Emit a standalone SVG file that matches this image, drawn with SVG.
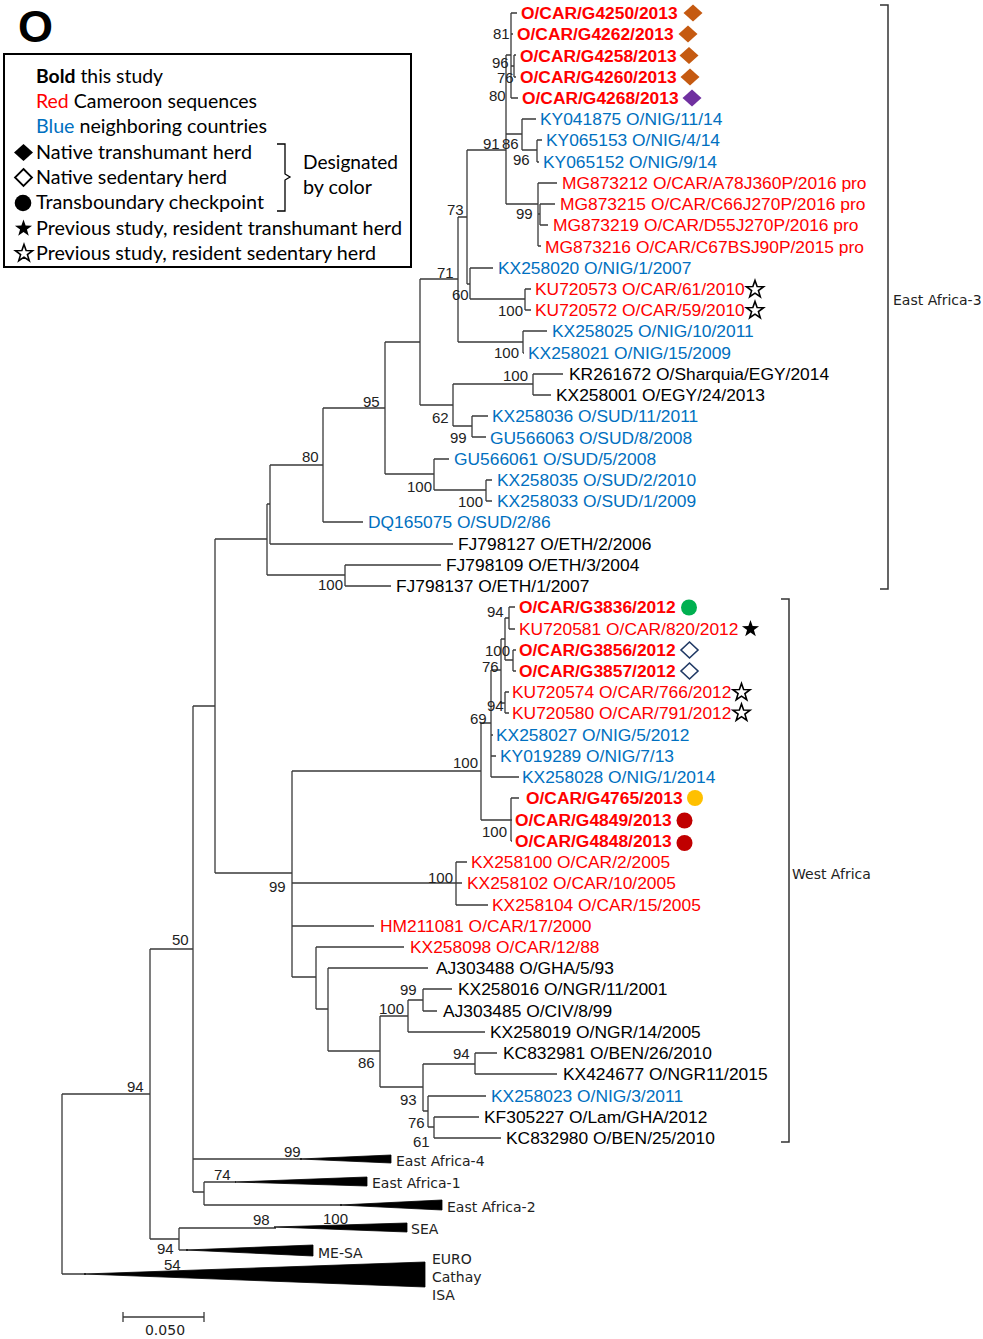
<svg xmlns="http://www.w3.org/2000/svg" width="983" height="1339" viewBox="0 0 983 1339">
<style>
.br{fill:none;stroke:#3a3a3a;stroke-width:1.3}
.bk{fill:none;stroke:#333;stroke-width:1.5}
.lf{font-family:"Liberation Sans",Arial,sans-serif;font-size:17.4px}
.b{font-weight:bold}
.r{fill:#ff0000}.u{fill:#0070c0}.k{fill:#000}
.bs{font-family:"Liberation Sans",Arial,sans-serif;font-size:15px;fill:#222}
.cl{font-family:"DejaVu Sans",Verdana,sans-serif;font-size:14px;fill:#222}
.lg{font-family:Lato,"Open Sans",sans-serif;font-size:19.5px;fill:#000}
.tri{fill:#000;stroke:#000;stroke-width:0.8}
.or{fill:#c55a11}.pu{fill:#7030a0}
.hd{fill:#fff;stroke:#1f3864;stroke-width:1.6}
.hs{fill:#fff;stroke:#000;stroke-width:1.6}
.fs{fill:#000}
</style>
<defs>
<polygon id="dia" points="0,-8.5 9.5,0 0,8.5 -9.5,0"/>
<polygon id="hdia" points="0,-8 8.5,0 0,8 -8.5,0"/>
<polygon id="star" points="0,-9 2.12,-2.92 8.56,-2.78 3.42,1.12 5.29,7.28 0,3.6 -5.29,7.28 -3.42,1.12 -8.56,-2.78 -2.12,-2.92"/>
</defs>
<rect width="983" height="1339" fill="#fff"/>

<text x="18" y="42" font-family="Liberation Sans,Arial,sans-serif" font-size="45" font-weight="bold">O</text>

<g id="legend">
<rect x="4" y="54" width="407" height="213" fill="none" stroke="#000" stroke-width="2"/>
<text class="lg" x="36" y="83" textLength="127" lengthAdjust="spacingAndGlyphs"><tspan font-weight="bold">Bold</tspan> this study</text>
<text class="lg" x="36" y="108" textLength="221" lengthAdjust="spacingAndGlyphs"><tspan fill="#ff0000">Red</tspan> Cameroon sequences</text>
<text class="lg" x="36" y="133" textLength="231" lengthAdjust="spacingAndGlyphs"><tspan fill="#0070c0">Blue</tspan> neighboring countries</text>
<use href="#dia" x="23.5" y="152.5" fill="#000"/>
<text class="lg" x="36" y="159" textLength="216" lengthAdjust="spacingAndGlyphs">Native transhumant herd</text>
<polygon points="23.5,169 32,177.5 23.5,186 15,177.5" fill="#fff" stroke="#000" stroke-width="1.8"/>
<text class="lg" x="36" y="184" textLength="191" lengthAdjust="spacingAndGlyphs">Native sedentary herd</text>
<circle cx="23" cy="203" r="8.3" fill="#000"/>
<text class="lg" x="36" y="209" textLength="228" lengthAdjust="spacingAndGlyphs">Transboundary checkpoint</text>
<use href="#star" x="23.5" y="228.5" class="fs"/>
<text class="lg" x="36" y="235" textLength="366" lengthAdjust="spacingAndGlyphs">Previous study, resident transhumant herd</text>
<use href="#star" x="24" y="253.5" class="hs"/>
<text class="lg" x="36" y="260" textLength="340" lengthAdjust="spacingAndGlyphs">Previous study, resident sedentary herd</text>
<path d="M277 144 H285 V174 L290 177 L285 180 V211 H277" fill="none" stroke="#000" stroke-width="1.3"/>
<text class="lg" x="303" y="169" textLength="95" lengthAdjust="spacingAndGlyphs">Designated</text>
<text class="lg" x="303" y="194" textLength="69" lengthAdjust="spacingAndGlyphs">by color</text>
</g>

<g id="connectors">
<path class="br" d="M511 13 V98 M511 13 H517 M511 34 H513 M511 66 H514 M514 55 V77 M514 55 H516 M514 77 H516 M511 98 H518
M506 55 H511 M506 55 V204
M506 134 H522 M522 119 V150 M522 119 H536 M522 150 H537 M537 140 V162 M537 140 H542 M537 162 H539
M506 204 H538 M538 183 V246 M538 183 H557 M538 214 H540 M540 204 V225 M540 204 H555 M540 225 H548 M538 246 H541
M467 150 H506 M467 150 V284 M458 217 H467
M467 284 H470 M470 268 V299 M470 268 H493 M470 299 H525 M525 289 V310 M525 289 H531 M525 310 H531
M458 342 H523 M523 331 V353 M523 331 H547 M523 353 H524
M458 217 V342 M420 279 H458
M420 279 V405 M420 405 H453 M453 384 V426 M453 384 H533 M533 374 V395 M533 374 H563 M533 395 H551
M453 426 H472 M472 416 V437 M472 416 H488 M472 437 H486
M385 342 H420
M385 474 H434 M434 459 V490 M434 459 H449 M434 490 H486 M486 480 V501 M486 480 H492 M486 501 H492
M385 342 V474 M323 408 H385
M323 408 V522 M323 522 H363 M270 465 H323
M270 465 V544 M270 544 H453
M267 504 H270 M267 504 V575 M267 575 H345 M345 565 V586 M345 565 H441 M345 586 H391
M215 539 H267 M215 539 V873 M193 706 H215"/>
<path class="br" d="M215 873 H292 M292 771 V977
M292 771 H481 M481 723 V820
M481 723 H491 M491 670 V777
M491 670 H501 M501 639 V703
M501 639 H505 M505 618 V660
M505 618 H509 M509 607 V629 M509 607 H515 M509 629 H515
M505 660 H513 M513 650 V671 M513 650 H516 M513 671 H516
M501 703 H505 M505 692 V713 M505 692 H509 M505 713 H509
M491 735 H493 M491 756 H496 M491 777 H519
M481 820 H511 M511 798 V841 M511 798 H519 M511 820 H512 M511 841 H512
M292 883 H462 M456 862 V905 M456 862 H467 M456 905 H488
M292 926 H374
M292 977 H316 M316 947 V1009 M316 947 H404
M316 1009 H328 M328 968 V1051 M328 968 H428
M328 1051 H380 M380 1016 V1087
M380 1016 H408 M408 1000 V1032 M408 1000 H423 M423 989 V1011 M423 989 H452 M423 1011 H437 M408 1032 H485
M380 1087 H423 M423 1064 V1111 M423 1064 H475 M475 1053 V1074 M475 1053 H497 M475 1074 H557
M423 1111 H428 M428 1096 V1127 M428 1096 H486 M428 1127 H434 M434 1117 V1138 M434 1117 H479 M434 1138 H501"/>
<path class="br" d="M193 706 V1192 M193 1159 H302 M193 1192 H204 M204 1182 V1205 M204 1182 H236 M204 1205 H342
M150 949 H193 M150 949 V1239 M150 1239 H179 M179 1228 V1250 M179 1228 H276 M179 1250 H188
M62 1094 H150 M62 1094 V1274 M62 1274 H86"/>
<polygon class="tri" points="300,1159 391,1155 391,1163"/>
<polygon class="tri" points="235,1182 367,1177 367,1186"/>
<polygon class="tri" points="340,1205 442,1200 442,1210"/>
<polygon class="tri" points="274,1227 407,1223 407,1232"/>
<polygon class="tri" points="186,1250 313,1245 313,1256"/>
<polygon class="tri" points="84,1274 425,1262 425,1287"/>
<path class="bk" d="M880 5 H888 V589 H880"/>
<path class="bk" d="M781 599 H789 V1142 H781"/>
<path class="br" d="M123 1317 H204 M123 1312 V1322 M204 1312 V1322"/>
</g>

<g id="bootstrap" class="bs">
<text x="493" y="38.5">81</text>
<text x="492" y="67.5">96</text>
<text x="497" y="82.5">76</text>
<text x="489" y="100.5">80</text>
<text x="483" y="149">91</text>
<text x="502" y="148.5">86</text>
<text x="513" y="164.5">96</text>
<text x="516" y="219">99</text>
<text x="447" y="214.5">73</text>
<text x="437" y="277.5">71</text>
<text x="452" y="299.5">60</text>
<text x="498" y="316">100</text>
<text x="494" y="358">100</text>
<text x="503" y="380.5">100</text>
<text x="363" y="406.5">95</text>
<text x="432" y="422.5">62</text>
<text x="450" y="443">99</text>
<text x="302" y="461.5">80</text>
<text x="407" y="491.5">100</text>
<text x="458" y="506.5">100</text>
<text x="318" y="589.5">100</text>
<text x="487" y="616.5">94</text>
<text x="485" y="655.5">100</text>
<text x="482" y="672">76</text>
<text x="487" y="710.5">94</text>
<text x="470" y="723.5">69</text>
<text x="453" y="768">100</text>
<text x="482" y="836.5">100</text>
<text x="428" y="883">100</text>
<text x="269" y="892">99</text>
<text x="172" y="944.5">50</text>
<text x="400" y="994.5">99</text>
<text x="379" y="1013.5">100</text>
<text x="453" y="1058.5">94</text>
<text x="358" y="1068">86</text>
<text x="400" y="1104.5">93</text>
<text x="408" y="1128">76</text>
<text x="413" y="1146.5">61</text>
<text x="127" y="1091.5">94</text>
<text x="284" y="1156.5">99</text>
<text x="214" y="1179.5">74</text>
<text x="253" y="1224.5">98</text>
<text x="323" y="1223.5">100</text>
<text x="157" y="1253.5">94</text>
<text x="164" y="1269.5">54</text>
</g>

<g id="leaves" class="lf">
<g id="leaf-1"><text class="b r" x="521" y="19">O/CAR/G4250/2013</text><use href="#dia" x="693" y="13" class="or"/></g>
<g id="leaf-2"><text class="b r" x="517" y="40">O/CAR/G4262/2013</text><use href="#dia" x="688" y="34" class="or"/></g>
<g id="leaf-3"><text class="b r" x="520" y="61.5">O/CAR/G4258/2013</text><use href="#dia" x="689" y="55.5" class="or"/></g>
<g id="leaf-4"><text class="b r" x="520" y="83">O/CAR/G4260/2013</text><use href="#dia" x="690" y="77" class="or"/></g>
<g id="leaf-5"><text class="b r" x="522" y="104">O/CAR/G4268/2013</text><use href="#dia" x="692" y="98" class="pu"/></g>
<g id="leaf-6"><text class="u" x="540" y="125">KY041875 O/NIG/11/14</text></g>
<g id="leaf-7"><text class="u" x="546" y="146">KY065153 O/NIG/4/14</text></g>
<g id="leaf-8"><text class="u" x="543" y="168">KY065152 O/NIG/9/14</text></g>
<g id="leaf-9"><text class="r" x="562" y="189">MG873212 O/CAR/A78J360P/2016 pro</text></g>
<g id="leaf-10"><text class="r" x="560" y="210">MG873215 O/CAR/C66J270P/2016 pro</text></g>
<g id="leaf-11"><text class="r" x="553" y="231">MG873219 O/CAR/D55J270P/2016 pro</text></g>
<g id="leaf-12"><text class="r" x="545" y="252.5">MG873216 O/CAR/C67BSJ90P/2015 pro</text></g>
<g id="leaf-13"><text class="u" x="498" y="274">KX258020 O/NIG/1/2007</text></g>
<g id="leaf-14"><text class="r" x="535" y="295">KU720573 O/CAR/61/2010</text><use href="#star" x="755" y="289.5" class="hs"/></g>
<g id="leaf-15"><text class="r" x="535" y="316">KU720572 O/CAR/59/2010</text><use href="#star" x="755" y="310.5" class="hs"/></g>
<g id="leaf-16"><text class="u" x="552" y="337">KX258025 O/NIG/10/2011</text></g>
<g id="leaf-17"><text class="u" x="528" y="359">KX258021 O/NIG/15/2009</text></g>
<g id="leaf-18"><text class="k" x="569" y="380">KR261672 O/Sharquia/EGY/2014</text></g>
<g id="leaf-19"><text class="k" x="556" y="401">KX258001 O/EGY/24/2013</text></g>
<g id="leaf-20"><text class="u" x="492" y="422">KX258036 O/SUD/11/2011</text></g>
<g id="leaf-21"><text class="u" x="490" y="443.5">GU566063 O/SUD/8/2008</text></g>
<g id="leaf-22"><text class="u" x="454" y="465">GU566061 O/SUD/5/2008</text></g>
<g id="leaf-23"><text class="u" x="497" y="486">KX258035 O/SUD/2/2010</text></g>
<g id="leaf-24"><text class="u" x="497" y="507">KX258033 O/SUD/1/2009</text></g>
<g id="leaf-25"><text class="u" x="368" y="528">DQ165075 O/SUD/2/86</text></g>
<g id="leaf-26"><text class="k" x="458" y="550">FJ798127 O/ETH/2/2006</text></g>
<g id="leaf-27"><text class="k" x="446" y="571">FJ798109 O/ETH/3/2004</text></g>
<g id="leaf-28"><text class="k" x="396" y="592">FJ798137 O/ETH/1/2007</text></g>
<g id="leaf-29"><text class="b r" x="519" y="613">O/CAR/G3836/2012</text><circle cx="689" cy="607.5" r="8" fill="#00b050"/></g>
<g id="leaf-30"><text class="r" x="519" y="634.5">KU720581 O/CAR/820/2012</text><use href="#star" x="750.5" y="629" class="fs"/></g>
<g id="leaf-31"><text class="b r" x="519" y="656">O/CAR/G3856/2012</text><use href="#hdia" x="689.5" y="650" class="hd"/></g>
<g id="leaf-32"><text class="b r" x="519" y="677">O/CAR/G3857/2012</text><use href="#hdia" x="689.5" y="671" class="hd"/></g>
<g id="leaf-33"><text class="r" x="512" y="698">KU720574 O/CAR/766/2012</text><use href="#star" x="741.5" y="692.5" class="hs"/></g>
<g id="leaf-34"><text class="r" x="512" y="719">KU720580 O/CAR/791/2012</text><use href="#star" x="741.5" y="713" class="hs"/></g>
<g id="leaf-35"><text class="u" x="496" y="741">KX258027 O/NIG/5/2012</text></g>
<g id="leaf-36"><text class="u" x="500" y="762">KY019289 O/NIG/7/13</text></g>
<g id="leaf-37"><text class="u" x="522" y="783">KX258028 O/NIG/1/2014</text></g>
<g id="leaf-38"><text class="b r" x="526" y="804">O/CAR/G4765/2013</text><circle cx="695" cy="798" r="8" fill="#ffc000"/></g>
<g id="leaf-39"><text class="b r" x="515" y="826">O/CAR/G4849/2013</text><circle cx="684.5" cy="820.5" r="8" fill="#c00000"/></g>
<g id="leaf-40"><text class="b r" x="515" y="847">O/CAR/G4848/2013</text><circle cx="684.5" cy="843" r="8" fill="#c00000"/></g>
<g id="leaf-41"><text class="r" x="471" y="868">KX258100 O/CAR/2/2005</text></g>
<g id="leaf-42"><text class="r" x="467" y="889">KX258102 O/CAR/10/2005</text></g>
<g id="leaf-43"><text class="r" x="492" y="911">KX258104 O/CAR/15/2005</text></g>
<g id="leaf-44"><text class="r" x="380" y="932">HM211081 O/CAR/17/2000</text></g>
<g id="leaf-45"><text class="r" x="410" y="953">KX258098 O/CAR/12/88</text></g>
<g id="leaf-46"><text class="k" x="436" y="974">AJ303488 O/GHA/5/93</text></g>
<g id="leaf-47"><text class="k" x="458" y="995">KX258016 O/NGR/11/2001</text></g>
<g id="leaf-48"><text class="k" x="443" y="1017">AJ303485 O/CIV/8/99</text></g>
<g id="leaf-49"><text class="k" x="490" y="1038">KX258019 O/NGR/14/2005</text></g>
<g id="leaf-50"><text class="k" x="503" y="1059">KC832981 O/BEN/26/2010</text></g>
<g id="leaf-51"><text class="k" x="563" y="1080">KX424677 O/NGR11/2015</text></g>
<g id="leaf-52"><text class="u" x="491" y="1102">KX258023 O/NIG/3/2011</text></g>
<g id="leaf-53"><text class="k" x="484" y="1123">KF305227 O/Lam/GHA/2012</text></g>
<g id="leaf-54"><text class="k" x="506" y="1144">KC832980 O/BEN/25/2010</text></g>
</g>

<g id="clades" class="cl">
<text x="396" y="1166">East Africa-4</text>
<text x="372" y="1188">East Africa-1</text>
<text x="447" y="1212">East Africa-2</text>
<text x="411" y="1234">SEA</text>
<text x="318" y="1258">ME-SA</text>
<text x="432" y="1264">EURO</text>
<text x="432" y="1282">Cathay</text>
<text x="432" y="1300">ISA</text>
<text x="893" y="305">East Africa-3</text>
<text x="792" y="879">West Africa</text>
<text x="165" y="1335" text-anchor="middle">0.050</text>
</g>
</svg>
